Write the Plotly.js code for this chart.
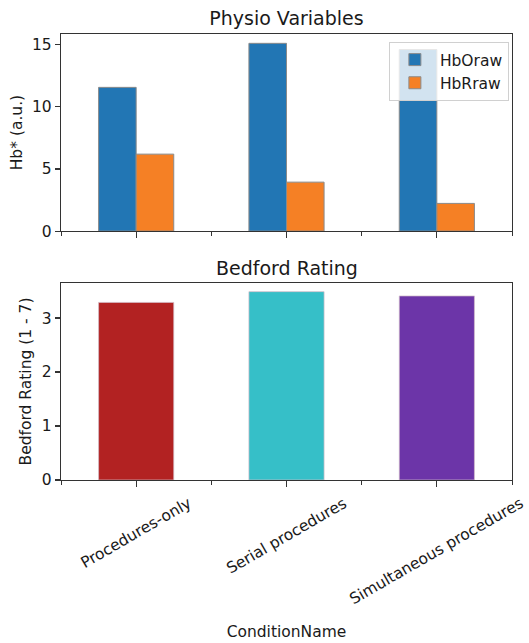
<!DOCTYPE html>
<html>
<head>
<meta charset="utf-8">
<script src="https://cdn.plot.ly/plotly-3.0.1.min.js"></script>
<style>html,body{margin:0;padding:0;background:#fff;}#chart{width:529px;height:643px;}</style>
</head>
<body>
<div id="chart"></div>
<script>
const categories = ["Procedures-only", "Serial procedures", "Simultaneous procedures"];
const hbOraw = [11.56, 15.1, 14.6];
const hbRraw = [6.19, 3.94, 2.23];
const bedford = [3.29, 3.49, 3.41];
const bedfordColors = ["#b22222", "#36bfc8", "#6c35a8"];
const hbYTicks = [0, 5, 10, 15];
const bedfordYTicks = [0, 1, 2, 3];

const xIdx = categories.map((c, i) => i);
const FONT = "DejaVu Sans, sans-serif";
const TXT = "#1a1a1a";
const FS = 15.5;

const traces = [
  {type: "bar", name: "HbOraw", x: xIdx, y: hbOraw, xaxis: "x", yaxis: "y",
   marker: {color: "#2276b4", line: {color: "#8a8a8a", width: 1}}},
  {type: "bar", name: "HbRraw", x: xIdx, y: hbRraw, xaxis: "x", yaxis: "y",
   marker: {color: "#f58025", line: {color: "#8a8a8a", width: 1}}},
  {type: "bar", name: "Bedford", x: xIdx, y: bedford, xaxis: "x2", yaxis: "y2",
   showlegend: false, width: 0.5,
   marker: {color: bedfordColors, line: {color: "rgba(210,190,200,0.9)", width: 0.8}}}
];

const axisCommon = {
  showline: true, linecolor: "#333", linewidth: 1.2, mirror: true,
  showgrid: false, zeroline: false, ticks: "outside", ticklen: 5, tickwidth: 1.2,
  tickcolor: "#333", tickfont: {family: FONT, size: FS, color: TXT}
};

const tickAnnotations = categories.map((c, i) => ({
  text: c, xref: "x2", yref: "paper", x: i, y: -0.026,
  xanchor: "center", yanchor: "top", textangle: -30, showarrow: false,
  font: {family: FONT, size: FS, color: TXT}
}));

const layout = {
  width: 529, height: 643,
  margin: {l: 61, r: 17, t: 34, b: 163},
  paper_bgcolor: "#fff", plot_bgcolor: "#fff",
  barmode: "group", bargap: 0.5, bargroupgap: 0,
  font: {family: FONT, color: TXT},
  title: {text: "Physio Variables", x: 0.5, xref: "paper", y: 1 - 18/643, yref: "container",
          xanchor: "center", yanchor: "middle", font: {family: FONT, size: 19, color: TXT}},
  xaxis: Object.assign({}, axisCommon, {
    domain: [0, 1], anchor: "y", range: [-0.5, 2.5], tickvals: xIdx, showticklabels: false,
    ticklen: 6, minor: {ticks: "outside", ticklen: 4, tickwidth: 1, tickcolor: "#333", tick0: 0.5, dtick: 1}
  }),
  yaxis: Object.assign({}, axisCommon, {
    domain: [0.558, 1], anchor: "x", range: [0, 15.85], tickvals: hbYTicks,
    title: {text: "Hb* (a.u.)", standoff: 5, font: {family: FONT, size: FS, color: TXT}}
  }),
  xaxis2: Object.assign({}, axisCommon, {
    domain: [0, 1], anchor: "y2", range: [-0.5, 2.5], tickvals: xIdx, showticklabels: false,
    ticklen: 6, minor: {ticks: "outside", ticklen: 4, tickwidth: 1, tickcolor: "#333", tick0: 0.5, dtick: 1},
    title: {text: "ConditionName", standoff: 140, font: {family: FONT, size: FS, color: TXT}}
  }),
  yaxis2: Object.assign({}, axisCommon, {
    domain: [0, 0.4417], anchor: "x2", range: [0, 3.65], tickvals: bedfordYTicks,
    title: {text: "Bedford Rating (1 - 7)", standoff: 6, font: {family: FONT, size: FS, color: TXT}}
  }),
  legend: {x: 0.727, y: 0.982, xanchor: "left", yanchor: "top",
           bgcolor: "rgba(255,255,255,0.8)", bordercolor: "#d0d0d0", borderwidth: 1,
           itemwidth: 40, font: {family: FONT, size: FS, color: TXT}},
  annotations: [
    {text: "Bedford Rating", xref: "paper", yref: "paper", x: 0.5, y: (480 - 268) / 446,
     xanchor: "center", yanchor: "middle", showarrow: false,
     font: {family: FONT, size: 19, color: TXT}}
  ].concat(tickAnnotations)
};

Plotly.newPlot("chart", traces, layout, {displayModeBar: false, staticPlot: true});
</script>
</body>
</html>
